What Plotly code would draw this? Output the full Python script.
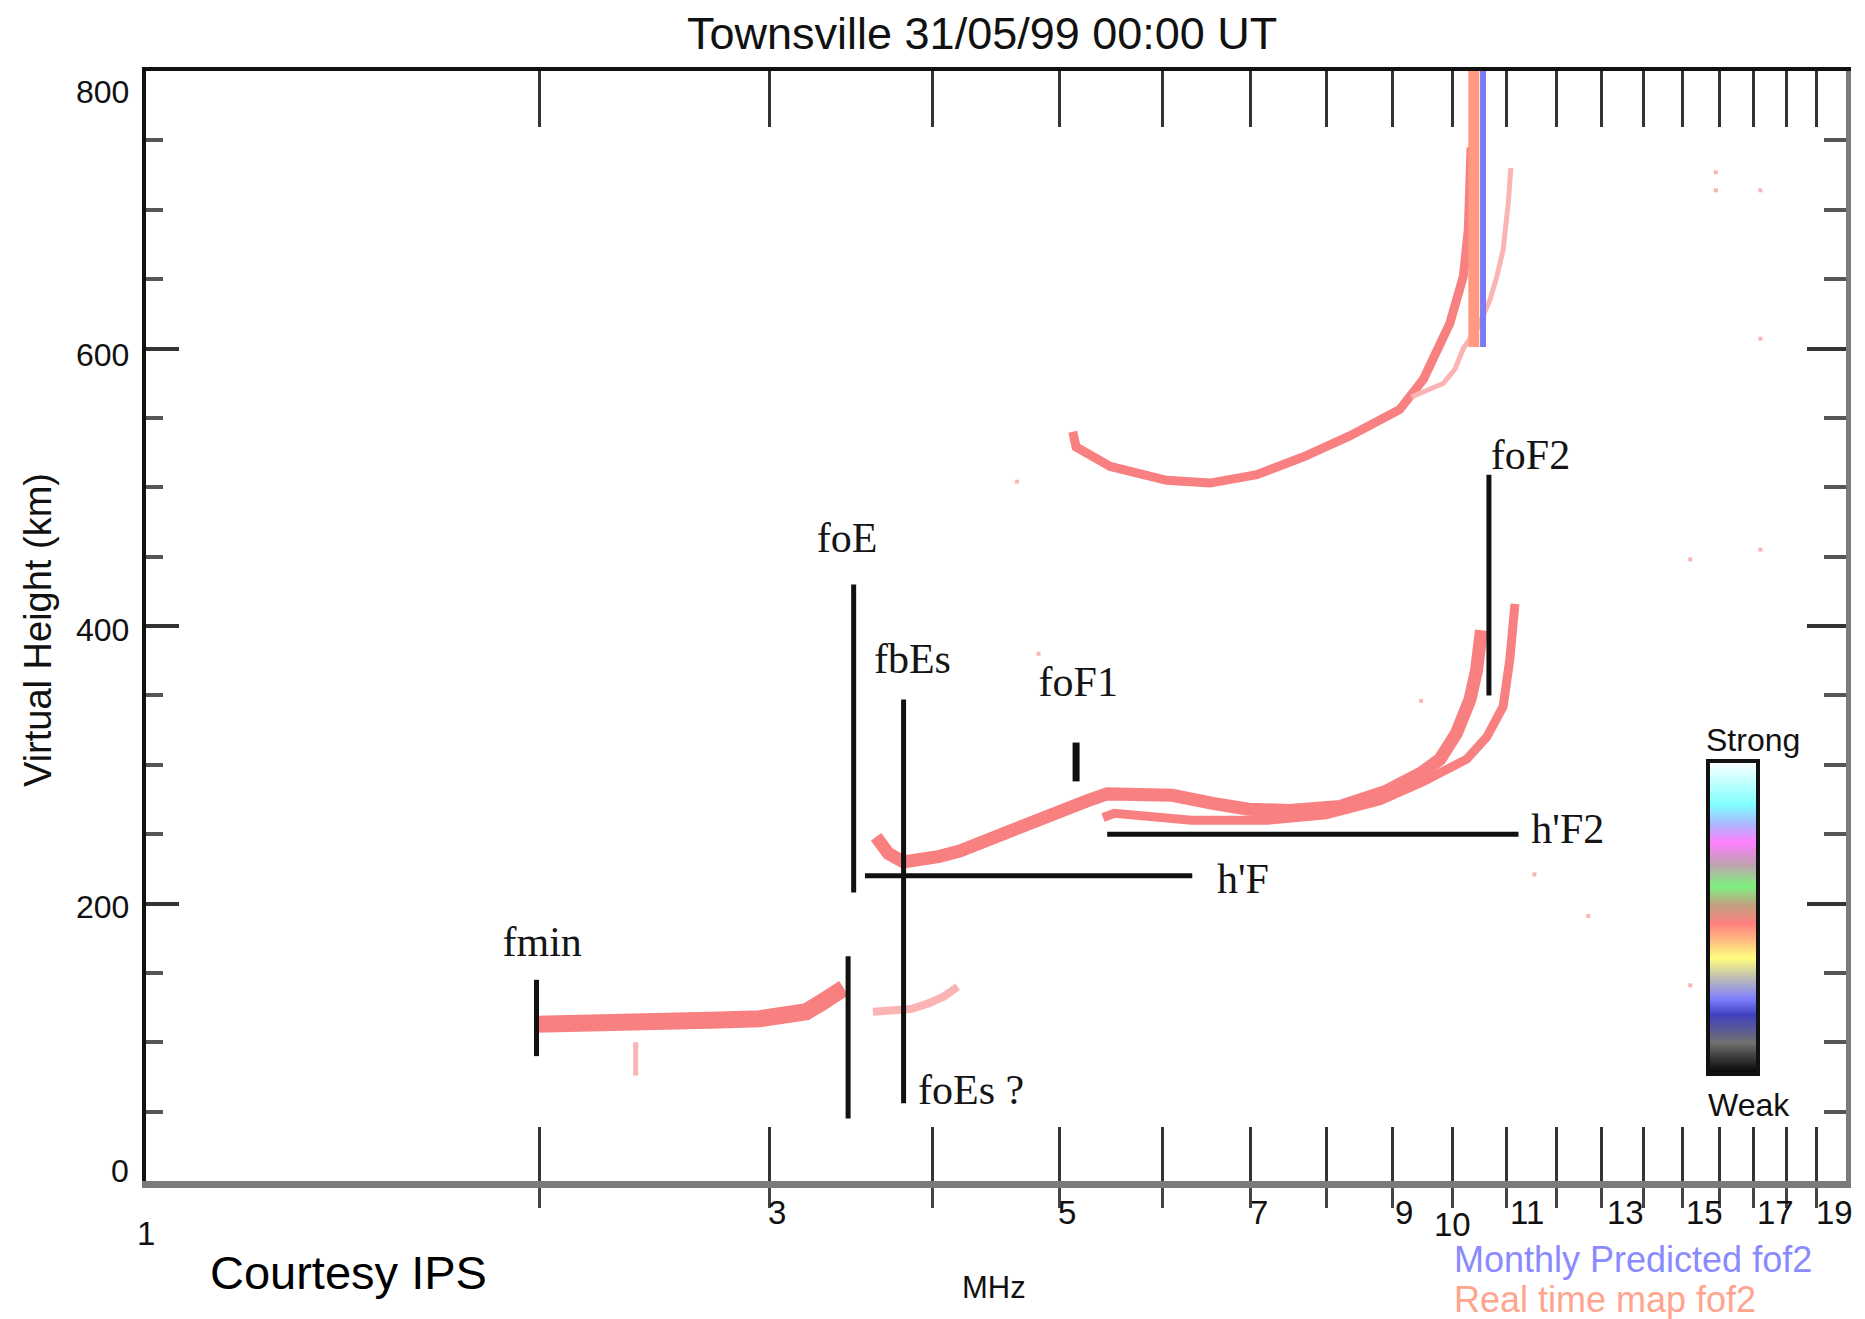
import numpy as np
import plotly.graph_objects as go

# ---------------- data ----------------
title_text = "Townsville 31/05/99 00:00 UT"
x_axis_title = "MHz"
y_axis_title = "Virtual Height (km)"
credit_text = "Courtesy IPS"

# E-region echo (MHz, km)
e_freq = [1.99, 2.15, 2.35, 2.55, 2.75, 2.95, 3.10, 3.20, 3.28, 3.35, 3.42]
e_height = [113, 113, 114, 115, 116, 117, 119, 122, 128, 135, 139]
es_freq = [3.60, 3.72, 3.85, 3.97, 4.08, 4.18]
es_height = [122, 123, 124, 128, 133, 140]
streak_freq = [2.37, 2.37]
streak_height = [76, 100]

# F-region echo, ordinary trace
fo_freq = [3.62, 3.70, 3.80, 3.92, 4.05, 4.20, 4.40, 4.59, 4.80, 5.02, 5.25, 5.44,
           5.75, 6.10, 6.57, 6.98, 7.50, 8.20, 8.90, 9.46, 9.78, 10.07, 10.31, 10.43, 10.52]
fo_height = [248, 236, 230, 231, 234, 238, 246, 253, 261, 268, 274, 279,
             279, 278, 272, 268, 267, 270, 281, 294, 304, 323, 347, 368, 397]
# F-region echo, second (lower / extraordinary) trace
fx_freq = [5.40, 5.51, 6.31, 7.22, 8.00, 8.80, 9.50, 9.90, 10.25, 10.62, 10.93, 11.06, 11.16]
fx_height = [262, 265, 260, 260, 264, 274, 288, 296, 304, 320, 342, 376, 416]
# second-hop F echo
f2_freq = [5.12, 5.15, 5.47, 6.04, 6.52, 7.08, 7.69, 8.34, 9.11, 9.50, 9.95, 10.19, 10.28, 10.31, 10.33]
f2_height = [540, 529, 515, 505, 503, 509, 522, 537, 556, 578, 618, 652, 686, 715, 745]
f2x_freq = [9.30, 9.84, 10.04, 10.19, 10.45, 10.68, 10.81, 10.93, 11.03, 11.08]
f2x_height = [565, 575, 585, 600, 615, 635, 652, 671, 705, 730]
# isolated noise points
noise_freq = [15.9, 15.9, 17.2, 17.2, 15.2, 17.2, 15.2, 11.55, 12.7, 9.46, 4.64, 4.82]
noise_height = [727, 714, 714, 607, 448, 455, 141, 221, 191, 346, 504, 380]

fof2_realtime = 10.38
fof2_monthly = 10.55
fof2_bar_height = [601, 800]

# scaling markers
vmark_freq = [1.99, 3.48, 3.446, 3.80, 5.15, 10.66]
vmark_h0 = [90, 208, 45, 56, 288, 350]
vmark_h1 = [145, 430, 162, 347, 316, 509]
hmark_height = [220, 250]
hmark_f0 = [3.55, 5.44]
hmark_f1 = [6.32, 11.23]
label_text = ["fmin", "foE", "fbEs", "foF1", "foF2", "h'F", "h'F2", "foEs ?"]
label_freq = [2.01, 3.44, 3.86, 5.17, 11.47, 6.91, 12.25, 4.28]
label_height = [170, 461, 374, 357, 521, 215, 251, 63]

x_tick_freqs = list(range(2, 20))
x_tick_labels = [1, 3, 5, 7, 9, 10, 11, 13, 15, 17, 19]
y_tick_labels = [0, 200, 400, 600, 800]
x_range = [1, 20]
y_range = [0, 800]
legend_texts = ["Monthly Predicted fof2", "Real time map fof2"]
scale_texts = ["Strong", "Weak"]

# ---------------- styling / layout ----------------
W, H = 1865, 1319
ML, MR, MT, MB = 146, 19, 71, 138
PW, PH = W - ML - MR, H - MT - MB

def px_x(p):
    return (p - ML) / PW

def px_y(p):
    return (H - MB - p) / PH

ECHO = "#f98080"
ECHO_LIGHT = "#fbb4b4"
SANS = "Liberation Sans, Arial, sans-serif"
SERIF = "Liberation Serif, Times New Roman, serif"

fig = go.Figure()

def echo(fx, hy, width, color=ECHO):
    fig.add_trace(go.Scatter(x=fx, y=hy, mode="lines",
                             line=dict(color=color, width=width),
                             hoverinfo="skip", showlegend=False))

echo(e_freq, e_height, 17)
echo(es_freq, es_height, 8, ECHO_LIGHT)
echo(streak_freq, streak_height, 5, ECHO_LIGHT)
echo(fo_freq, fo_height, 13)
echo(fx_freq, fx_height, 9)
echo(f2_freq, f2_height, 9)
echo(f2x_freq, f2x_height, 5, ECHO_LIGHT)
fig.add_trace(go.Scatter(x=noise_freq, y=noise_height, mode="markers",
                         marker=dict(color=ECHO_LIGHT, size=4, symbol="square"),
                         hoverinfo="skip", showlegend=False))

# foF2 bars
fig.add_trace(go.Scatter(x=[fof2_realtime] * 2, y=fof2_bar_height, mode="lines",
                         line=dict(color="#ff9a80", width=11),
                         hoverinfo="skip", showlegend=False))
fig.add_trace(go.Scatter(x=[fof2_monthly] * 2, y=fof2_bar_height, mode="lines",
                         line=dict(color="#7c7cf2", width=6),
                         hoverinfo="skip", showlegend=False))

# scaling marker lines
for i, (f, h0, h1) in enumerate(zip(vmark_freq, vmark_h0, vmark_h1)):
    fig.add_trace(go.Scatter(x=[f, f], y=[h0, h1], mode="lines",
                             line=dict(color="#111111", width=7 if i == 4 else 5),
                             hoverinfo="skip", showlegend=False))
for h, f0, f1 in zip(hmark_height, hmark_f0, hmark_f1):
    fig.add_trace(go.Scatter(x=[f0, f1], y=[h, h], mode="lines",
                             line=dict(color="#111111", width=5),
                             hoverinfo="skip", showlegend=False))
fig.add_trace(go.Scatter(x=label_freq, y=label_height, mode="text", text=label_text,
                         textposition="middle center",
                         textfont=dict(family=SERIF, size=42, color="#151515"),
                         hoverinfo="skip", showlegend=False, cliponaxis=False))

# strength scale (colour bar)
strength_scale = [[0.0, "#000000"], [0.10, "#707070"], [0.19, "#4040c0"], [0.24, "#8080ff"],
                  [0.31, "#c0c0b0"], [0.37, "#ffff80"], [0.43, "#ffb880"], [0.48, "#ff8080"],
                  [0.54, "#c0a080"], [0.60, "#80f080"], [0.67, "#c0a0b0"], [0.74, "#ff80ff"],
                  [0.80, "#a8b8ff"], [0.86, "#80ffff"], [1.0, "#ffffff"]]
fig.add_trace(go.Scatter(
    x=[1.5], y=[-100], mode="markers", hoverinfo="skip", showlegend=False,
    marker=dict(color=[0.5], colorscale=strength_scale, cmin=0, cmax=1, showscale=True, size=1,
                colorbar=dict(x=px_x(1708), xanchor="left", y=px_y(1074), yanchor="bottom",
                              len=(1074 - 761) / PH, lenmode="fraction", thickness=50,
                              outlinewidth=4, outlinecolor="#111111", showticklabels=False,
                              ticks="", xpad=0, ypad=0, bgcolor="rgba(0,0,0,0)",
                              borderwidth=0))))

# dummy traces to attach overlay axes
for xa, ya in [("x2", "y"), ("x3", "y"), ("x", "y2")]:
    fig.add_trace(go.Scatter(x=[None], y=[None], xaxis=xa, yaxis=ya, mode="lines",
                             hoverinfo="skip", showlegend=False))

log_range = [np.log10(x_range[0]), np.log10(x_range[1])]
common_x = dict(type="log", range=log_range, showgrid=False, zeroline=False,
                showticklabels=False, tickmode="array", tickvals=x_tick_freqs)
fig.update_layout(
    width=W, height=H,
    margin=dict(l=ML, r=MR, t=MT, b=MB, autoexpand=False),
    paper_bgcolor="white", plot_bgcolor="white", showlegend=False,
    xaxis=dict(**common_x, showline=True, linecolor="#7a7a7a", linewidth=7,
               ticks="outside", ticklen=20, tickwidth=3, tickcolor="#444444"),
    xaxis2=dict(**common_x, overlaying="x", anchor="y", side="bottom", showline=False,
                ticks="inside", ticklen=54, tickwidth=3, tickcolor="#333333"),
    xaxis3=dict(**common_x, overlaying="x", anchor="y", side="top", showline=True,
                linecolor="#111111", linewidth=4,
                ticks="inside", ticklen=56, tickwidth=3, tickcolor="#333333"),
    yaxis=dict(range=y_range, showgrid=False, zeroline=False, showticklabels=False,
               showline=True, linecolor="#111111", linewidth=4,
               tick0=0, dtick=200, ticks="inside", ticklen=33, tickwidth=4, tickcolor="#333333",
               minor=dict(tick0=0, dtick=50, ticks="inside", ticklen=17, tickwidth=4,
                          tickcolor="#555555", showgrid=False)),
    yaxis2=dict(range=y_range, overlaying="y", anchor="x", side="right", showgrid=False,
                zeroline=False, showticklabels=False, showline=True, linecolor="#7a7a7a",
                linewidth=5, tick0=0, dtick=200, ticks="inside", ticklen=39, tickwidth=4,
                tickcolor="#333333",
                minor=dict(tick0=0, dtick=50, ticks="inside", ticklen=22, tickwidth=4,
                           tickcolor="#555555", showgrid=False)),
)

ann = []
# x tick labels
xlab_dx = {1: 0, 3: 8, 5: 8, 7: 9, 9: 11, 10: 0, 11: 20, 13: 24, 15: 22, 17: 22, 19: 18}
xlab_ypx = {1: 1233, 10: 1224}
for v in x_tick_labels:
    ypx = xlab_ypx.get(v, 1212)
    ann.append(dict(x=np.log10(v), xref="x", y=0, yref="paper", text=str(v), showarrow=False,
                    xanchor="center", yanchor="middle", xshift=xlab_dx[v],
                    yshift=-(ypx - (H - MB)),
                    font=dict(family=SANS, size=33, color="#111111")))
# y tick labels
ylab_dy = {0: 10, 200: -3, 400: -4, 600: -6, 800: -21}
for v in y_tick_labels:
    ann.append(dict(x=0, xref="paper", y=v, yref="y", text=str(v), showarrow=False,
                    xanchor="right", yanchor="middle", xshift=-15, yshift=ylab_dy[v],
                    font=dict(family=SANS, size=32, color="#111111")))
# titles and texts
ann += [
    dict(x=px_x(982), y=px_y(34), xref="paper", yref="paper", text=title_text, showarrow=False,
         xanchor="center", yanchor="middle", font=dict(family=SANS, size=45, color="#111111")),
    dict(x=px_x(38), y=px_y(630), xref="paper", yref="paper", text=y_axis_title,
         showarrow=False, textangle=-90, xanchor="center", yanchor="middle",
         font=dict(family=SANS, size=38, color="#111111")),
    dict(x=px_x(994), y=px_y(1287), xref="paper", yref="paper", text=x_axis_title,
         showarrow=False, xanchor="center", yanchor="middle",
         font=dict(family=SANS, size=31, color="#111111")),
    dict(x=px_x(208), y=px_y(1272), xref="paper", yref="paper", text=credit_text,
         showarrow=False, xanchor="left", yanchor="middle",
         font=dict(family=SANS, size=47, color="#000000")),
    dict(x=px_x(1452), y=px_y(1259), xref="paper", yref="paper", text=legend_texts[0],
         showarrow=False, xanchor="left", yanchor="middle",
         font=dict(family=SANS, size=36, color="#8a8aff")),
    dict(x=px_x(1452), y=px_y(1299), xref="paper", yref="paper", text=legend_texts[1],
         showarrow=False, xanchor="left", yanchor="middle",
         font=dict(family=SANS, size=36, color="#ffa48e")),
    dict(x=px_x(1704), y=px_y(740), xref="paper", yref="paper", text=scale_texts[0],
         showarrow=False, xanchor="left", yanchor="middle",
         font=dict(family=SANS, size=32, color="#111111")),
    dict(x=px_x(1706), y=px_y(1105), xref="paper", yref="paper", text=scale_texts[1],
         showarrow=False, xanchor="left", yanchor="middle",
         font=dict(family=SANS, size=32, color="#111111")),
]
fig.update_layout(annotations=ann)

fig.write_html("out.html")
